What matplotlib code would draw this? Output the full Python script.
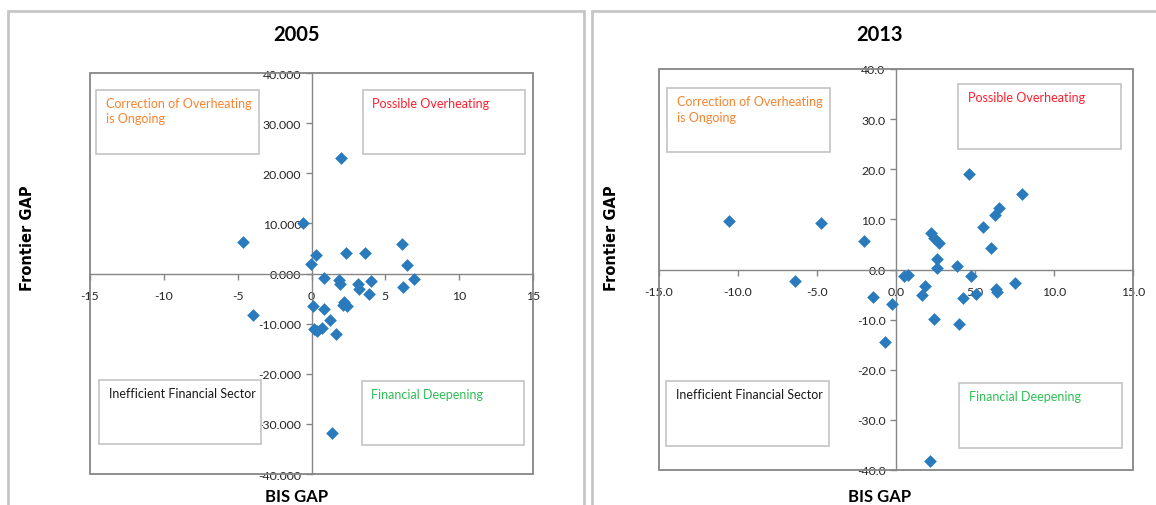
import matplotlib.pyplot as plt
from matplotlib.patches import Rectangle
from matplotlib.ticker import FormatStrFormatter

plt.rcParams['font.family'] = ['Lato', 'DejaVu Sans']

# BIS gap vs frontier gap by country
bis_2005 = [2.0, -0.57, -4.65, 6.1, 2.35, 3.62, 0.28, -0.03, 6.5, 0.83, 6.95, 1.86,
            1.9, 3.14, 4.02, 3.19, 3.92, 6.19, 2.17, 2.11, 2.4, 0.09, 0.83, -3.97,
            1.26, 0.2, 0.39, 0.73, 1.65, 1.4]
frontier_2005 = [23.0, 10.0, 6.2, 5.95, 4.05, 4.15, 3.65, 1.95, 1.6, -0.85, -1.1, -1.35,
                 -2.15, -2.0, -1.55, -3.1, -4.15, -2.7, -5.6, -6.2, -6.5, -6.55, -7.1, -8.3,
                 -9.35, -11.0, -11.45, -10.9, -12.05, -31.75]

bis_2013 = [4.61, 7.96, 6.5, 6.27, -10.58, -4.75, 5.53, 2.2, 2.38, 2.69, -2.01, 6.02,
            2.59, 2.57, 3.84, 0.49, 0.74, 4.72, -6.37, 1.83, 7.5, 6.32, 6.41, 5.07,
            1.64, -1.48, 4.26, -0.23, 2.38, 3.98, -0.69, 2.18]
frontier_2013 = [19.0, 15.1, 12.2, 10.9, 9.7, 9.25, 8.5, 7.3, 6.3, 5.2, 5.7, 4.3,
                 2.1, 0.27, 0.73, -1.33, -1.07, -1.33, -2.2, -3.2, -2.73, -3.8, -4.46, -4.8,
                 -5.06, -5.46, -5.73, -6.93, -9.8, -10.8, -14.5, -38.2]

quad_labels = ['Correction of Overheating\nis Ongoing', 'Possible Overheating',
               'Inefficient Financial Sector', 'Financial Deepening']
quad_colors = ['#F7832F', '#FF1E2E', '#1A1A1A', '#2EBE55']

W, H = 1156, 506
fig = plt.figure(figsize=(W / 100, H / 100), dpi=100)


def px(x0, y0, x1, y1):
    # pixel box (top-left origin) -> figure fraction rect
    return [x0 / W, 1 - y1 / H, (x1 - x0) / W, (y1 - y0) / H]


# outer chart borders
for x0, x1 in [(8, 584), (592, 1170)]:
    r = px(x0, 12, x1, 530)
    fig.patches.append(Rectangle((r[0], r[1]), r[2], r[3], transform=fig.transFigure,
                                 facecolor='none', edgecolor='#c6c6c6', lw=2))


def quadrant_chart(rect, xs, ys, title, ylab_x, boxes, fmt_x, fmt_y, title_x):
    ax = fig.add_axes(px(*rect))
    ax.scatter(xs, ys, marker='D', s=42, color='#2A7BBD', zorder=4, linewidths=0)
    ax.set_xlim(-15, 15)
    ax.set_ylim(-40, 40)
    ax.set_xticks(range(-15, 16, 5))
    ax.set_yticks(range(-40, 41, 10))
    ax.xaxis.set_major_formatter(FormatStrFormatter(fmt_x))
    ax.yaxis.set_major_formatter(FormatStrFormatter(fmt_y))
    for s in ['top', 'right']:
        ax.spines[s].set_visible(False)
    ax.spines['left'].set_position(('data', 0))
    ax.spines['bottom'].set_position(('data', 0))
    for s in ['left', 'bottom']:
        ax.spines[s].set_color('#868686')
        ax.spines[s].set_linewidth(1)
    ax.add_patch(Rectangle((0, 0), 1, 1, transform=ax.transAxes, fill=False,
                           edgecolor='#868686', lw=1.3, clip_on=False, zorder=5))
    ax.tick_params(colors='#868686', labelcolor='#262626', labelsize=8.8, length=4, width=1)
    ax.tick_params(axis='x', pad=8)

    for (bx0, by0, bx1, by1), lab, col in zip(boxes, quad_labels, quad_colors):
        ax.add_patch(Rectangle((bx0, by0), bx1 - bx0, by1 - by0, facecolor='white',
                               edgecolor='#c4c4c4', lw=1.2, zorder=2))
        ax.text(bx0 + 0.65, by1 - 1.4, lab, color=col, fontsize=9, va='top', ha='left',
                linespacing=1.35, zorder=3)

    fig.text(title_x / W, 1 - 35 / H, title, ha='center', va='center',
             fontsize=14.5, fontweight='bold')
    fig.text(ylab_x / W, 1 - 238 / H, 'Frontier GAP', rotation=90, ha='center',
             va='center', fontsize=10.5, fontweight='bold', family='DejaVu Sans')
    fig.text(title_x / W, 1 - 497 / H, 'BIS GAP', ha='center', va='center',
             fontsize=12, fontweight='bold')
    return ax


boxes_2005 = [(-14.57, 23.8, -3.56, 36.7), (3.46, 23.8, 14.44, 36.7),
              (-14.37, -34.1, -3.41, -21.2), (3.41, -34.2, 14.37, -21.4)]
boxes_2013 = [(-14.49, 23.4, -4.19, 36.2), (3.91, 24.05, 14.24, 37.0),
              (-14.56, -35.3, -4.26, -22.3), (3.98, -35.6, 14.28, -22.7)]

quadrant_chart((90, 74, 533, 475), bis_2005, frontier_2005, '2005', 28,
               boxes_2005, '%d', '%.3f', 297)
quadrant_chart((659, 70, 1133, 471), bis_2013, frontier_2013, '2013', 612,
               boxes_2013, '%.1f', '%.1f', 880)

fig.savefig('out.png', dpi=100)
